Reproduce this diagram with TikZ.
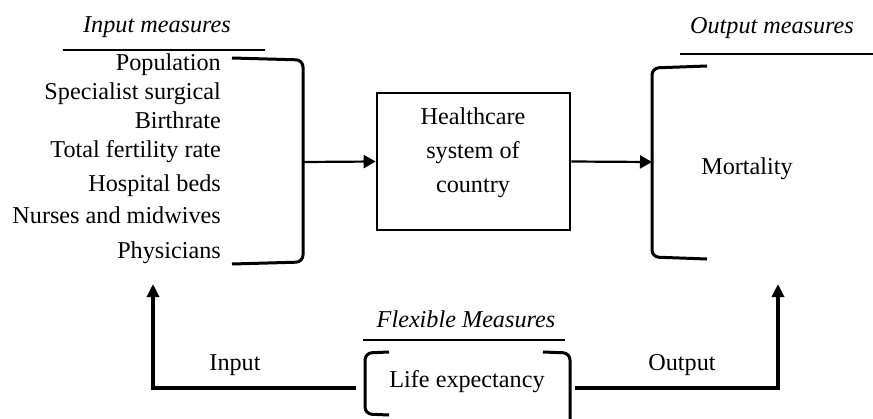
\documentclass[tikz,border=0pt]{standalone}
\usepackage{fontspec}
\setmainfont{Liberation Serif}
\usetikzlibrary{arrows.meta}
\begin{document}
\begin{tikzpicture}[x=1pt,y=-1pt,
  lbl/.style={inner sep=0pt, font=\fontsize{24.2}{34}\selectfont},
  ttl/.style={inner sep=0pt, font=\fontsize{24.2}{34}\selectfont\itshape},
  brk/.style={line width=3pt, rounded corners=7pt},
  conn/.style={line width=2.2pt, -{Triangle[length=12pt,width=13pt]}},
  fb/.style={line width=3.2pt, -{Triangle[length=13pt,width=12pt]}},
  rule/.style={line width=1.8pt},
  sysbox/.style={draw, line width=2.6pt, minimum width=193pt, minimum height=137pt, inner sep=0pt}]
\useasboundingbox[fill=white] (0,0) rectangle (873,418);

% titles
\node[ttl, anchor=base] (tin) at (157,32) {Input measures};
\draw[rule] (63,50) -- (265,50);
\node[ttl, anchor=base] (tout) at (772,33) {Output measures};
\draw[rule] (680,54) -- (873,54);
\node[ttl, anchor=base] (tflex) at (466,327) {Flexible Measures};
\draw[rule] (363,340) -- (565,340);

% input list
\node[lbl, anchor=base east] (in1) at (221,70) {Population};
\node[lbl, anchor=base east] (in2) at (221,99) {Specialist surgical};
\node[lbl, anchor=base east] (in3) at (221,128) {Birthrate};
\node[lbl, anchor=base east] (in4) at (221,157) {Total fertility rate};
\node[lbl, anchor=base east] (in5) at (221,191) {Hospital beds};
\node[lbl, anchor=base east] (in6) at (221,223) {Nurses and midwives};
\node[lbl, anchor=base east] (in7) at (221,258) {Physicians};

% input bracket
\draw[brk] (232,58) -- (303,60) -- (303,262) -- (232,264);
\coordinate (inbrk) at (303,162);

% system box
\node[sysbox] (sys) at (473.5,161.5) {};
\node[lbl, align=center] (systxt) at (473,153) {Healthcare\\system of\\country};

% output bracket
\draw[brk] (707,66) -- (652,68) -- (652,257) -- (707,259);
\coordinate (outbrk) at (652,162);
\node[lbl, anchor=base] (mort) at (747,174) {Mortality};

\draw[conn] (inbrk) -- (sys.west);
\draw[conn] (sys.east) -- (outbrk);

% flexible
\draw[brk] (389,352) -- (365,353) -- (365,414) -- (389,415);
\draw[brk] (543,352) -- (570,353) -- (570,420);
\node[lbl, anchor=base] (life) at (467,387) {Life expectancy};
\coordinate (lifeL) at (356,388);
\coordinate (lifeR) at (575,388);
\coordinate (inup) at (153,284);
\coordinate (outup) at (778,284);

\draw[fb] (lifeL) -| (inup);
\draw[fb] (lifeR) -| (outup);
\node[lbl, anchor=base] (linp) at (235,370) {Input};
\node[lbl, anchor=base] (lout) at (682,370) {Output};
\end{tikzpicture}
\end{document}
